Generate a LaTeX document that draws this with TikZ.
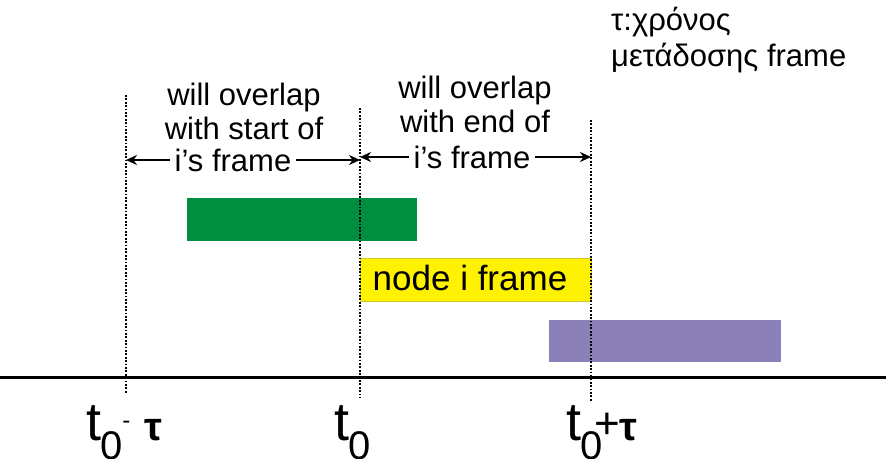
\documentclass[tikz,border=0pt]{standalone}
\usepackage{fontspec}
\setmainfont{Liberation Sans}
\usetikzlibrary{arrows.meta}
\definecolor{frgreen}{RGB}{0,142,64}
\definecolor{frpurple}{RGB}{140,128,184}
\begin{document}
\begin{tikzpicture}[x=1pt,y=-1pt,
  lbl/.style={font=\fontsize{31}{34}\selectfont, align=center, inner sep=0pt},
  vline/.style={line width=1.8pt, dash pattern=on 1.8pt off 1.6pt},
  arr/.style={-{Stealth[length=11pt,width=10pt]}, line width=2pt},
  framebox/.style={inner sep=0pt, outer sep=0pt, anchor=north west},
  tlabel/.style={inner sep=0pt, anchor=base west},
]
\useasboundingbox (0,0) rectangle (886,458);
% boxes
\node[framebox, fill=frgreen, minimum width=230pt, minimum height=43pt] (green) at (187,198) {};
\node[framebox, fill=yellow, draw=yellow!80!black, line width=0.4pt, minimum width=231pt, minimum height=43pt] (yellowbox) at (360,258) {};
\node[font=\fontsize{35}{35}\selectfont, inner sep=0pt] (ytext) at (470,278) {node i frame};
\node[framebox, fill=frpurple, minimum width=232pt, minimum height=42pt] (purple) at (549,320) {};
% axis
\coordinate (axL) at (0,377);
\coordinate (axR) at (886,377);
\draw[line width=3pt] (axL) -- (axR);
% vertical dotted lines
\coordinate (aT) at (126,95);  \coordinate (aB) at (126,394);
\coordinate (bT) at (360,108); \coordinate (bB) at (360,398);
\coordinate (cT) at (591,120); \coordinate (cB) at (591,402);
\draw[vline] (aT) -- (aB);
\draw[vline] (bT) -- (bB);
\draw[vline] (cT) -- (cB);
% texts above
\node[lbl] (left1) at (244,111) {will overlap\\with start of};
\node[lbl] (left2) at (233,160) {i’s frame};
\node[lbl] (right1) at (475,104) {will overlap\\with end of};
\node[lbl] (right2) at (472,157) {i’s frame};
\coordinate (la) at (126,160); \coordinate (lb) at (360,160);
\coordinate (ra) at (360,157); \coordinate (rb) at (591,157);
\draw[arr] ([xshift=-5pt]left2.west) -- (la);
\draw[arr] ([xshift=5pt]left2.east) -- (lb);
\draw[arr] ([xshift=-5pt]right2.west) -- (ra);
\draw[arr] ([xshift=5pt]right2.east) -- (rb);
% top right note
\node[inner sep=0pt, anchor=north west, align=left, font=\fontsize{31}{36}\selectfont] (note) at (611,7) {τ:χρόνος\\μετάδοσης frame};
% bottom labels
\node[tlabel] (t1) at (86,440) {\fontsize{54}{54}\selectfont t\kern-1pt\raisebox{-19pt}{\fontsize{40}{40}\selectfont 0}\raisebox{12pt}{\fontsize{24}{24}\selectfont -}\kern14pt{\fontsize{40}{40}\selectfont\bfseries τ}};
\node[tlabel] (t2) at (334,440) {\fontsize{54}{54}\selectfont t\kern-1pt\raisebox{-19pt}{\fontsize{40}{40}\selectfont 0}};
\node[tlabel] (t3) at (566,440) {\fontsize{54}{54}\selectfont t\kern-1pt\raisebox{-19pt}{\fontsize{40}{40}\selectfont 0}\kern-8pt\raisebox{2pt}{\fontsize{44}{44}\selectfont +}\kern-1pt{\fontsize{40}{40}\selectfont\bfseries τ}};
\end{tikzpicture}
\end{document}
